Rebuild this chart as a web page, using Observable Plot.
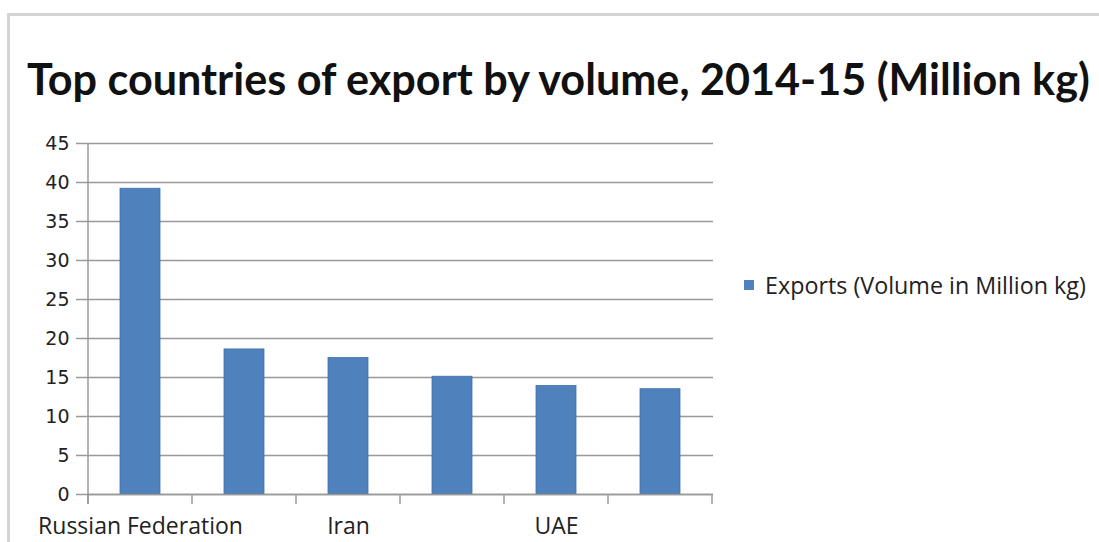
<!DOCTYPE html>
<html>
<head>
<meta charset="utf-8">
<script src="https://cdn.jsdelivr.net/npm/d3@7"></script>
<script src="https://cdn.jsdelivr.net/npm/@observablehq/plot@0.6"></script>
<style>
  html, body { margin: 0; padding: 0; background: #fff; }
  #wrap { position: relative; width: 1099px; height: 542px; overflow: hidden; }
  #borderTop { position: absolute; left: 7px; top: 13px; width: 1092px; height: 3px; background: #d4d4d4; }
  #borderLeft { position: absolute; left: 7px; top: 13px; width: 3px; height: 529px; background: #d4d4d4; }
  #title { position: absolute; left: 27px; top: 57px; margin: 0; font-family: Lato, "Open Sans", sans-serif; font-weight: 700; font-size: 36px; color: #111; white-space: nowrap; line-height: 1; }
  #chart { position: absolute; left: 0; top: 125px; }
  #legend { position: absolute; left: 744px; top: 269px; display: flex; align-items: center; font-family: "Open Sans", sans-serif; font-size: 23px; color: #222; white-space: nowrap; }
  #legend .sw { width: 10px; height: 10px; background: #4f81bd; margin-right: 11px; }
</style>
</head>
<body>
<div id="wrap">
  <div id="borderTop"></div>
  <div id="borderLeft"></div>
  <h1 id="title"></h1>
  <div id="chart"></div>
  <div id="legend"><div class="sw"></div><span id="legendText"></span></div>
</div>
<script>
const titleText = "Top countries of export by volume, 2014-15 (Million kg)";
const seriesName = "Exports (Volume in Million kg)";
const categories = ["Russian Federation", "Pakistan", "Iran", "USA", "UAE", "UK"];
const tickLabels = ["Russian Federation", "", "Iran", "", "UAE", ""];
const values = [39.2, 18.6, 17.5, 15.1, 13.9, 13.5];
const yTicks = [0, 5, 10, 15, 20, 25, 30, 35, 40, 45];

const data = categories.map((c, i) => ({category: c, value: values[i]}));

// Title fitted to its width in the reference
const titleEl = document.getElementById("title");
titleEl.textContent = titleText;
const targetW = 1063;
const w0 = titleEl.getBoundingClientRect().width;
titleEl.style.fontSize = (36 * targetW / w0).toFixed(2) + "px";

// Legend text fitted to its width in the reference
const legEl = document.getElementById("legendText");
legEl.textContent = seriesName;
const lw0 = legEl.getBoundingClientRect().width;
document.getElementById("legend").style.fontSize = (23 * 321 / lw0).toFixed(2) + "px";

const gray = "#999";

// Boundary ticks under the category axis (between categories)
function boundaryTicks(index, scales, values, dims) {
  const x = scales.x, y = scales.y;
  const bw = x.bandwidth();
  const step = x.step ? x.step() : bw / (1 - 0.62);
  const gap = (step - bw) / 2;
  const y0 = y(0);
  const g = d3.create("svg:g").attr("stroke", gray).attr("stroke-width", 1.5);
  const xs = categories.map(c => x(c) - gap);
  xs.push(x(categories[categories.length - 1]) + bw + gap);
  xs.forEach(px => {
    g.append("line").attr("x1", px).attr("x2", px).attr("y1", y0).attr("y2", y0 + 10);
  });
  // vertical axis line
  g.append("line").attr("x1", xs[0]).attr("x2", xs[0]).attr("y1", y(45)).attr("y2", y0 + 10);
  return g.node();
}

const plot = Plot.plot({
  width: 1099,
  height: 417,
  marginTop: 18,
  marginLeft: 87,
  marginRight: 386,
  marginBottom: 48,
  style: {background: "transparent"},
  x: {domain: categories, paddingInner: 0.62, paddingOuter: 0.31},
  y: {domain: [0, 45]},
  marks: [
    Plot.gridY(yTicks, {stroke: gray, strokeOpacity: 1, strokeWidth: 1.5}),
    Plot.axisY({ticks: yTicks, tickSize: 11, tickPadding: 7, stroke: gray, strokeWidth: 1.5,
                fontSize: 19, fontFamily: "DejaVu Sans", fill: "#222", label: null}),
    Plot.axisX({tickSize: 0, tickPadding: 23, fontSize: 23, fontFamily: "Open Sans", fill: "#222",
                tickFormat: d => tickLabels[categories.indexOf(d)], label: null}),
    Plot.barY(data, {x: "category", y: "value", fill: "#4f81bd", stroke: "#3f71ad", strokeWidth: 0.8}),
    Plot.ruleY([0], {stroke: gray, strokeWidth: 1.5}),
    boundaryTicks
  ]
});
document.getElementById("chart").append(plot);
</script>
</body>
</html>
